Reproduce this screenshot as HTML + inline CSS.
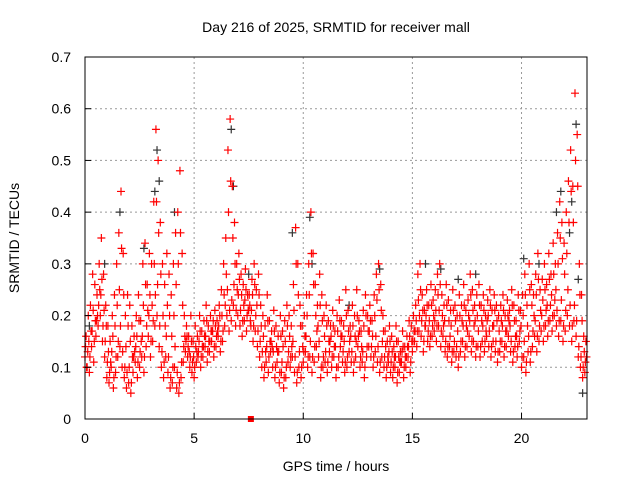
<!DOCTYPE html>
<html><head><meta charset="utf-8"><style>
body{margin:0;background:#fff;}
svg text{font-family:"Liberation Sans",sans-serif;font-size:14px;fill:#000;}
</style></head><body>
<svg id="chart" width="640" height="480">
<rect width="640" height="480" fill="#fff"/>
<g id="grid"></g><g id="marks"></g><g id="axes"></g>
</svg>
<script>
const xTicks=[0,5,10,15,20];
const yTicks=[0,0.1,0.2,0.3,0.4,0.5,0.6,0.7];
const yTickLabels=["0","0.1","0.2","0.3","0.4","0.5","0.6","0.7"];
const startHour=0, stepHour=0.1;
const lowVals=[
.12,.10,.09,.14,.11,.16,.18,.20,.15,.12,
.08,.07,.10,.06,.09,.12,.14,.10,.08,.06,
.07,.05,.09,.11,.08,.10,.12,.09,.14,.16,
.12,.15,.18,.20,.14,.10,.08,.12,.09,.06,
.07,.10,.06,.05,.08,.11,.13,.12,.10,.09,
.08,.11,.13,.10,.12,.14,.11,.13,.15,.12,
.14,.16,.13,.15,.18,.20,.17,.19,.22,.18,
.20,.18,.16,.19,.17,.21,.18,.15,.17,.14,
.12,.10,.08,.11,.09,.13,.10,.08,.11,.07,
.09,.06,.08,.11,.10,.12,.09,.07,.10,.08,
.11,.13,.10,.12,.09,.11,.14,.12,.08,.10,
.11,.09,.13,.10,.12,.08,.10,.14,.11,.09,
.10,.13,.11,.09,.12,.14,.10,.11,.08,.12,
.14,.12,.10,.13,.11,.09,.12,.10,.08,.11,
.09,.08,.10,.07,.09,.11,.08,.10,.12,.09,
.13,.15,.14,.17,.16,.13,.18,.15,.14,.16,
.17,.15,.18,.14,.16,.13,.12,.14,.11,.13,
.12,.10,.13,.15,.12,.14,.16,.13,.15,.12,
.14,.12,.15,.13,.16,.14,.12,.15,.13,.11,
.13,.15,.12,.14,.16,.13,.11,.14,.12,.15,
.10,.12,.09,.13,.11,.14,.16,.13,.15,.17,
.15,.18,.16,.19,.17,.20,.18,.16,.19,.15,
.17,.20,.18,.15,.19,.16,.12,.10,.08,.09];
const midAVals=[
.14,.13,.12,.17,.15,.19,.22,.24,.18,.15,
.11,.09,.13,.08,.12,.15,.18,.13,.10,.09,
.10,.07,.12,.14,.11,.13,.16,.12,.18,.20,
.15,.19,.24,.26,.18,.13,.11,.16,.12,.08,
.10,.14,.09,.07,.11,.14,.15,.14,.12,.11,
.10,.13,.15,.12,.14,.16,.13,.15,.17,.14,
.16,.18,.15,.17,.22,.25,.21,.23,.26,.21,
.24,.21,.19,.23,.20,.24,.21,.18,.20,.17,
.15,.13,.10,.14,.12,.15,.13,.10,.13,.09,
.11,.08,.10,.13,.12,.15,.12,.09,.13,.10,
.13,.16,.12,.15,.12,.14,.17,.15,.10,.12,
.13,.11,.15,.12,.14,.10,.12,.16,.13,.11,
.12,.15,.13,.11,.15,.16,.12,.13,.10,.14,
.17,.14,.12,.16,.14,.11,.15,.12,.10,.13,
.11,.10,.12,.09,.11,.13,.10,.12,.14,.11,
.15,.17,.17,.20,.19,.15,.20,.17,.16,.18,
.19,.18,.21,.17,.18,.15,.14,.16,.13,.15,
.14,.12,.15,.18,.14,.17,.19,.15,.18,.14,
.17,.14,.18,.15,.19,.17,.14,.18,.15,.13,
.15,.18,.14,.17,.19,.15,.13,.16,.14,.17,
.12,.15,.11,.16,.13,.17,.19,.16,.18,.20,
.18,.21,.19,.22,.20,.23,.21,.19,.23,.18,
.21,.25,.22,.18,.22,.19,.14,.12,.10,.11];
const midBVals=[
.10,.15,.17,.21,.19,.20,.25,.27,.21,.18,
.13,.11,.16,.18,.22,.25,.33,.24,.14,.18,
.15,.12,.13,.16,.19,.15,.22,.26,.21,.24,
.22,.30,.42,.36,.28,.20,.18,.22,.20,.16,
.20,.26,.30,.36,.22,.16,.16,.13,.15,.12,
.14,.12,.17,.14,.16,.19,.15,.17,.19,.18,
.17,.20,.20,.24,.28,.40,.46,.35,.30,.25,
.27,.24,.22,.25,.21,.19,.24,.26,.22,.24,
.18,.16,.13,.19,.15,.14,.17,.14,.13,.16,
.14,.15,.18,.16,.14,.21,.30,.24,.18,.14,
.16,.20,.24,.32,.26,.20,.18,.22,.19,.16,
.18,.15,.16,.18,.14,.17,.19,.16,.15,.20,
.17,.16,.18,.16,.20,.17,.14,.18,.20,.17,
.19,.16,.20,.23,.25,.21,.17,.14,.12,.15,
.13,.12,.15,.12,.11,.14,.12,.14,.16,.15,
.17,.19,.23,.25,.21,.18,.22,.19,.22,.20,
.21,.24,.26,.20,.19,.22,.19,.18,.21,.19,
.17,.20,.19,.22,.18,.20,.24,.21,.19,.20,
.22,.19,.21,.17,.20,.22,.18,.21,.19,.17,
.19,.21,.17,.20,.18,.22,.19,.16,.21,.18,
.20,.24,.18,.25,.22,.20,.24,.27,.21,.23,
.25,.22,.27,.24,.28,.25,.30,.35,.31,.28,
.32,.38,.44,.38,.50,.45,.24,.19,.13,.12];
const highVals=[
.16,.20,.22,.28,.26,.24,.30,.35,.28,.22,
.18,.15,.20,.24,.30,.36,.44,.32,.20,.24,
.22,.18,.16,.20,.24,.19,.30,.34,.26,.32,
.30,.42,.56,.50,.38,.30,.26,.32,.28,.24,
.30,.36,.40,.48,.32,.20,.18,.16,.20,.15,
.18,.16,.20,.17,.19,.22,.18,.20,.17,.21,
.19,.22,.25,.30,.35,.52,.58,.45,.38,.30,
.32,.28,.26,.29,.24,.22,.27,.30,.25,.28,
.22,.20,.18,.24,.19,.17,.21,.18,.16,.20,
.17,.19,.22,.20,.18,.26,.37,.30,.22,.18,
.20,.24,.30,.40,.32,.26,.22,.28,.24,.20,
.22,.19,.18,.21,.17,.20,.23,.19,.18,.25,
.21,.18,.22,.20,.25,.19,.17,.21,.24,.20,
.22,.19,.24,.28,.30,.26,.20,.17,.15,.18,
.16,.14,.18,.15,.13,.17,.14,.16,.19,.18,
.20,.22,.28,.30,.24,.21,.25,.22,.26,.23,
.25,.28,.30,.24,.22,.26,.23,.21,.25,.22,
.20,.24,.22,.26,.21,.23,.28,.25,.22,.24,
.26,.22,.24,.20,.23,.25,.21,.24,.22,.20,
.22,.24,.20,.23,.21,.25,.22,.19,.24,.21,
.24,.28,.22,.30,.26,.24,.28,.32,.25,.27,
.30,.26,.32,.28,.34,.30,.36,.42,.38,.34,
.40,.46,.52,.45,.63,.55,.30,.24,.16,.15];
const grayHours=[0.2,0.9,1.6,2.7,3.2,3.3,3.4,4.1,6.7,6.8,7.5,9.5,10.3,10.4,12.1,13.5,15.6,16.3,17.1,17.9,20.1,20.8,21.6,21.8,22.2,22.3,22.5,22.6,22.8];
const grayVals=[0.18,0.30,0.40,0.33,0.44,0.52,0.46,0.40,0.56,0.45,0.28,0.36,0.39,0.30,0.22,0.29,0.30,0.29,0.27,0.28,0.31,0.30,0.40,0.44,0.36,0.42,0.57,0.27,0.05];
const zeroHours=[7.6];
const X0=85,X1=587,Y0=419,Y1=57,XMAX=23,YMAX=0.7;
const xs=h=>X0+(h/XMAX)*(X1-X0);
const ys=v=>Y0-(v/YMAX)*(Y0-Y1);
const NS="http://www.w3.org/2000/svg";
const grid=document.getElementById('grid'),marks=document.getElementById('marks'),axes=document.getElementById('axes');
function mk(tag,attrs,parent){const e=document.createElementNS(NS,tag);for(const k in attrs)e.setAttribute(k,attrs[k]);parent.appendChild(e);return e;}
xTicks.forEach(t=>{
 if(t>0){const g=mk('line',{x1:xs(t),x2:xs(t),y1:Y0,y2:Y1,stroke:'#999','stroke-dasharray':'2,3'},grid);
 
 }
 const tk=mk('line',{x1:xs(t),x2:xs(t),y1:Y0,y2:Y0-6,stroke:'#000'},axes);
 
 
 const l=mk('text',{x:xs(t),y:Y0+24,'text-anchor':'middle'},axes);l.textContent=t;
 
 
});
yTicks.forEach((t,i)=>{
 if(t>0&&t<YMAX){const g=mk('line',{x1:X0,x2:X1,y1:ys(t),y2:ys(t),stroke:'#999','stroke-dasharray':'2,3'},grid);
 
 }
 const tk=mk('line',{x1:X0,x2:X0+6,y1:ys(t),y2:ys(t),stroke:'#000'},axes);
 
 
 const l=mk('text',{x:X0-14,y:ys(t)+5,'text-anchor':'end'},axes);l.textContent=yTickLabels[i];
 
 
});
const frame=mk('rect',{x:X0,y:Y1,width:X1-X0,height:Y0-Y1,fill:'none',stroke:'#000'},axes);


function cross(h,v,color,name){
 const x=xs(h),y=ys(v);
 const p=mk('path',{d:`M${x-4},${y}H${x+4}M${x},${y-4}V${y+4}`,stroke:color,'stroke-width':1.2,fill:'none'},marks);
 
 
}
grayVals.forEach((v,i)=>cross(grayHours[i],v,'#333','gray-point'));
lowVals.forEach((v,i)=>cross(startHour+i*stepHour,v,'#f00','red-point-low'));
midAVals.forEach((v,i)=>cross(startHour+i*stepHour+0.025,v,'#f00','red-point-mid-a'));
midBVals.forEach((v,i)=>cross(startHour+i*stepHour+0.075,v,'#f00','red-point-mid-b'));
highVals.forEach((v,i)=>cross(startHour+i*stepHour+0.05,v,'#f00','red-point-high'));
zeroHours.forEach(h=>{const r=mk('rect',{x:xs(h)-3,y:Y0-3,width:6,height:6,fill:'#f00'},marks);
 
 });
const title=mk('text',{x:336,y:32,'text-anchor':'middle'},axes);title.textContent='Day 216 of 2025, SRMTID for receiver mall';


const xl=mk('text',{x:336,y:471,'text-anchor':'middle'},axes);xl.textContent='GPS time / hours';


const yl=mk('text',{x:0,y:0,'text-anchor':'middle',transform:'translate(19,238) rotate(-90)'},axes);yl.textContent='SRMTID / TECUs';


</script>
</body></html>
